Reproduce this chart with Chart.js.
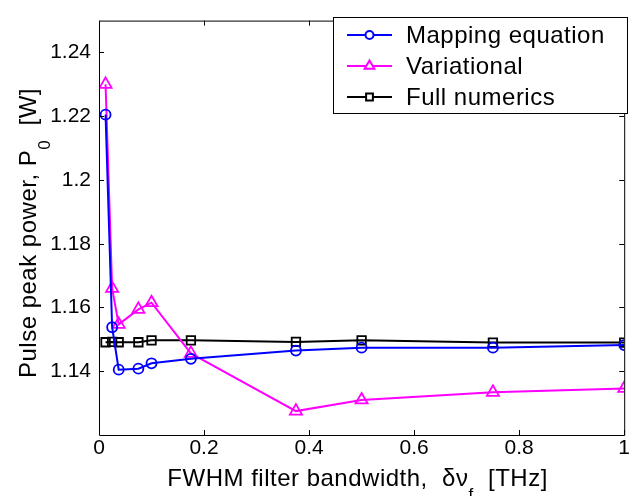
<!DOCTYPE html>
<html>
<head>
<meta charset="utf-8">
<script src="https://cdn.jsdelivr.net/npm/chart.js@4"></script>
<style>
  html, body { margin: 0; padding: 0; background: #fff; }
  #wrap { width: 633px; height: 496px; }
</style>
</head>
<body>
<div id="wrap"><canvas id="peakPower" width="633" height="496"></canvas></div>
<script>
// filter bandwidth in THz
const bandwidth = [0.0125, 0.025, 0.0375, 0.075, 0.1, 0.175, 0.375, 0.5, 0.75, 1];
// pulse peak power in W
const mappingEq = [1.2205, 1.1538, 1.1405, 1.1408, 1.1425, 1.1439, 1.1465, 1.1474, 1.1474, 1.1482];
const variational = [1.2300, 1.1660, 1.1547, 1.1594, 1.1615, 1.1456, 1.1275, 1.1310, 1.1334, 1.1346];
const fullNumerics = [1.1491, 1.1492, 1.1491, 1.1491, 1.1497, 1.1497, 1.1492, 1.1497, 1.1490, 1.1490];

const xTicks = [0, 0.2, 0.4, 0.6, 0.8, 1];
const yTicks = [1.14, 1.16, 1.18, 1.2, 1.22, 1.24];

const FONT = '"Liberation Sans", Arial, Helvetica, sans-serif';

function pts(ys) {
  return bandwidth.map((x, i) => ({ x: x, y: ys[i] }));
}

const series = [
  { label: 'Mapping equation', data: mappingEq, color: '#0000ff', style: 'circle', r: 5 },
  { label: 'Variational', data: variational, color: '#ff00ff', style: 'triangle', r: 7 },
  { label: 'Full numerics', data: fullNumerics, color: '#000000', style: 'rect', r: 6 }
];

// box around the axes with inward ticks on all four sides
const frame = {
  id: 'frame',
  afterDatasetsDraw(chart) {
    const { ctx, chartArea: a, scales } = chart;
    ctx.save();
    ctx.strokeStyle = '#000';
    ctx.lineWidth = 1;
    ctx.beginPath();
    ctx.rect(a.left + 0.5, a.top + 0.5, a.right - a.left, a.bottom - a.top);
    ctx.stroke();
    const len = 5;
    ctx.beginPath();
    xTicks.forEach(v => {
      const px = Math.round(scales.x.getPixelForValue(v)) + 0.5;
      ctx.moveTo(px, a.bottom); ctx.lineTo(px, a.bottom - len);
      ctx.moveTo(px, a.top); ctx.lineTo(px, a.top + len);
    });
    yTicks.forEach(v => {
      const py = Math.round(scales.y.getPixelForValue(v)) + 0.5;
      ctx.moveTo(a.left, py); ctx.lineTo(a.left + len, py);
      ctx.moveTo(a.right, py); ctx.lineTo(a.right - len, py);
    });
    ctx.stroke();
    ctx.restore();
  }
};

// axis titles with subscripts (subscript drops well below the baseline)
function setFont(ctx, sub) {
  ctx.font = (sub ? '17px ' : '24px ') + FONT;
  ctx.letterSpacing = '0.5px';
}
function drawParts(ctx, parts, x, y) {
  let cx = x;
  parts.forEach(p => {
    setFont(ctx, p.sub);
    ctx.fillText(p.t, cx, y + (p.sub ? 14 : 0));
    cx += ctx.measureText(p.t).width;
  });
}
function partsWidth(ctx, parts) {
  let w = 0;
  parts.forEach(p => {
    setFont(ctx, p.sub);
    w += ctx.measureText(p.t).width;
  });
  return w;
}

const titles = {
  id: 'titles',
  afterDraw(chart) {
    const { ctx, chartArea: a } = chart;
    ctx.save();
    ctx.fillStyle = '#000';
    ctx.textBaseline = 'alphabetic';
    const xParts = [{ t: 'FWHM filter bandwidth,  \u03b4\u03bd' }, { t: 'f', sub: true }, { t: '  [THz]' }];
    const xw = partsWidth(ctx, xParts);
    drawParts(ctx, xParts, (a.left + a.right) / 2 - xw / 2 - 4, 486);

    const yParts = [{ t: 'Pulse peak power, P' }, { t: '0', sub: true }, { t: '  [W]' }];
    const yw = partsWidth(ctx, yParts);
    ctx.translate(36, 233);
    ctx.rotate(-Math.PI / 2);
    drawParts(ctx, yParts, -yw / 2, 0);
    ctx.restore();
  }
};

// legend box: line with marker, then label
const legendBox = {
  id: 'legendBox',
  afterDraw(chart) {
    const { ctx } = chart;
    const box = { x: 333, y: 17, w: 294, h: 96 };
    ctx.save();
    ctx.fillStyle = '#fff';
    ctx.fillRect(box.x, box.y, box.w, box.h);
    ctx.strokeStyle = '#000';
    ctx.lineWidth = 1;
    ctx.strokeRect(box.x + 0.5, box.y + 0.5, box.w, box.h);
    series.forEach((s, i) => {
      const y = 35 + i * 31;
      ctx.strokeStyle = s.color;
      ctx.lineWidth = 2;
      ctx.beginPath();
      ctx.moveTo(347, y); ctx.lineTo(392, y);
      ctx.stroke();
      ctx.fillStyle = '#fff';
      Chart.helpers.drawPoint(ctx, { pointStyle: s.style, radius: s.r * 0.8, borderWidth: 1.5 }, 369.5, y);
      ctx.fillStyle = '#000';
      setFont(ctx, false);
      ctx.textBaseline = 'middle';
      ctx.fillText(s.label, 406, y + 1);
    });
    ctx.restore();
  }
};

new Chart(document.getElementById('peakPower'), {
  type: 'scatter',
  data: {
    datasets: series.map(s => ({
      label: s.label,
      data: pts(s.data),
      showLine: true,
      borderColor: s.color,
      backgroundColor: 'rgba(0,0,0,0)',
      borderWidth: 2,
      pointStyle: s.style,
      pointRadius: s.r,
      pointBorderWidth: 1.8,
      pointBorderColor: s.color,
      pointBackgroundColor: 'rgba(0,0,0,0)'
    }))
  },
  options: {
    responsive: false,
    animation: false,
    layout: { padding: { top: 11, right: 6, left: 0, bottom: 0 } },
    plugins: { legend: { display: false }, tooltip: { enabled: false } },
    scales: {
      x: {
        type: 'linear',
        min: 0, max: 1,
        grid: { display: false, drawTicks: false, tickLength: 0 },
        border: { display: false },
        afterBuildTicks: axis => { axis.ticks = xTicks.map(v => ({ value: v })); },
        afterFit: axis => { axis.height = 61; },
        ticks: {
          color: '#000',
          padding: 1,
          maxRotation: 0,
          font: { family: FONT, size: 21 },
          callback: v => String(parseFloat(v.toFixed(2)))
        }
      },
      y: {
        type: 'linear',
        min: 1.12, max: 1.25,
        grid: { display: false, drawTicks: false, tickLength: 0 },
        border: { display: false },
        afterBuildTicks: axis => { axis.ticks = yTicks.map(v => ({ value: v })); },
        afterFit: axis => { axis.width = 99; },
        ticks: {
          color: '#000',
          padding: 8,
          font: { family: FONT, size: 21 },
          callback: v => String(parseFloat(v.toFixed(2)))
        }
      }
    }
  },
  plugins: [frame, titles, legendBox]
});
</script>
</body>
</html>
